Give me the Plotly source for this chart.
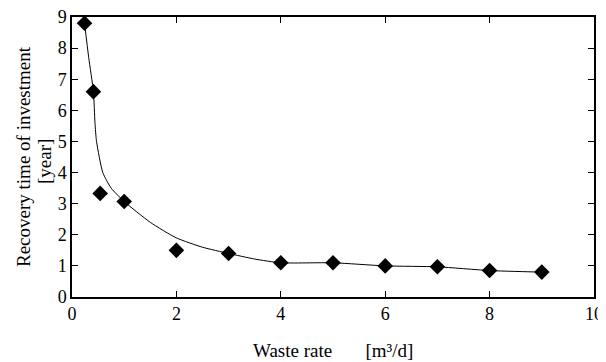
import plotly.graph_objects as go

# measured data points
waste_rate = [0.24, 0.41, 0.54, 1.0, 2.0, 3.0, 4.0, 5.0, 6.0, 7.0, 8.0, 9.0]
recovery_time = [8.8, 6.6, 3.33, 3.07, 1.5, 1.4, 1.1, 1.1, 1.0, 0.97, 0.85, 0.8]

# fitted curve
curve_x = [0.24, 0.32, 0.41, 0.44, 0.47, 0.59, 0.75, 1.0, 1.5, 2.0, 2.5, 3.0, 3.5, 4.0, 5.0, 6.0, 7.0, 8.0, 9.0]
curve_y = [8.8, 7.7, 6.6, 5.6, 5.0, 4.0, 3.5, 3.07, 2.4, 1.9, 1.6, 1.4, 1.22, 1.1, 1.1, 1.0, 0.97, 0.85, 0.8]

x_ticks = [0, 2, 4, 6, 8, 10]
y_ticks = [0, 1, 2, 3, 4, 5, 6, 7, 8, 9]

x_title = "Waste rate&nbsp;&nbsp;&nbsp;&nbsp;&nbsp;&nbsp;&nbsp;[m³/d]"
y_title_1 = "Recovery time of investment"
y_title_2 = "[year]"

font = "Liberation Serif"

fig = go.Figure()
fig.add_trace(go.Scatter(x=curve_x, y=curve_y, mode="lines",
                         line=dict(color="black", width=1, shape="spline", smoothing=0.6),
                         showlegend=False, hoverinfo="skip"))
fig.add_trace(go.Scatter(x=waste_rate, y=recovery_time, mode="markers",
                         marker=dict(symbol="diamond", size=12, color="black"),
                         showlegend=False))

axis_common = dict(ticks="inside", ticklen=6, tickcolor="black", showline=True,
                   linecolor="black", linewidth=1.5, mirror="ticks", showgrid=False,
                   zeroline=False, automargin=False, ticklabeloverflow="allow",
                   tickfont=dict(family=font, size=18, color="black"))

fig.update_layout(
    width=598, height=354,
    margin=dict(l=64, r=12, t=9, b=65),
    paper_bgcolor="white", plot_bgcolor="white",
    font=dict(family=font, size=19, color="black"),
    xaxis=dict(range=[0, 10], tickvals=x_ticks, **axis_common),
    yaxis=dict(range=[0, 9], tickvals=y_ticks, **axis_common),
    annotations=[
        dict(text=x_title, xref="paper", yref="paper", x=0.5, y=0, xanchor="center",
             yanchor="middle", yshift=-53, showarrow=False, font=dict(family=font, size=19)),
        dict(text=y_title_1, xref="paper", yref="paper", x=0, y=0.5, xanchor="center",
             yanchor="middle", xshift=-49, textangle=-90, showarrow=False,
             font=dict(family=font, size=19)),
        dict(text=y_title_2, xref="paper", yref="paper", x=0, y=0.5, xanchor="center",
             yanchor="middle", xshift=-28, yshift=-5, textangle=-90, showarrow=False,
             font=dict(family=font, size=19)),
    ],
)

fig.write_html("out.html")
